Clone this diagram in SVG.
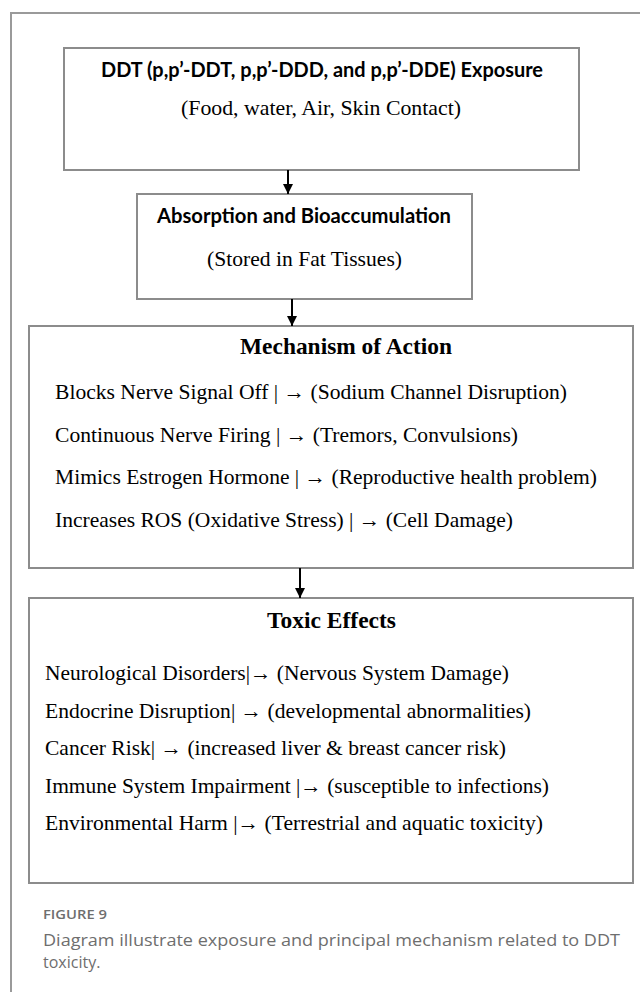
<svg xmlns="http://www.w3.org/2000/svg" width="640" height="992" viewBox="0 0 640 992">
<style>
.box{fill:#fff;stroke:#8c8c8c;stroke-width:2}
.hs{font-family:Lato,"Open Sans","Liberation Sans",sans-serif;font-weight:bold;font-size:20.5px;fill:#000}
.sr{font-family:"Liberation Serif","Times New Roman",serif;font-size:22px;fill:#000}
.sb{font-family:"Liberation Serif","Times New Roman",serif;font-size:23px;font-weight:bold;fill:#000}
.conn{stroke:#000;stroke-width:2;fill:none}
.cap1{font-family:"Open Sans",Lato,sans-serif;font-size:12.5px;font-weight:600;fill:#6e6e6e}
.cap2{font-family:"Open Sans",Lato,sans-serif;font-size:16px;fill:#6e6e6e}
</style>
<defs>
<marker id="ah" markerUnits="userSpaceOnUse" markerWidth="11" markerHeight="12" refX="10" refY="5" orient="auto">
<path d="M0,0 L10,5 L0,10 z" fill="#000"/>
</marker>
</defs>
<rect width="640" height="992" fill="#fff"/>
<path d="M11,992 V13 H640" fill="none" stroke="#9a9a9a" stroke-width="2"/>

<g id="exposure">
<rect class="box" x="64" y="48" width="515" height="122"/>
<text class="hs" x="101" y="77" textLength="442" lengthAdjust="spacingAndGlyphs">DDT (p,p’-DDT, p,p’-DDD, and p,p’-DDE) Exposure</text>
<text class="sr" x="181" y="115" textLength="280" lengthAdjust="spacingAndGlyphs">(Food, water, Air, Skin Contact)</text>
</g>

<g id="absorption">
<rect class="box" x="137" y="194" width="335" height="105"/>
<text class="hs" x="157" y="223" textLength="294" lengthAdjust="spacingAndGlyphs">Absorption and Bioaccumulation</text>
<text class="sr" x="207" y="266" textLength="195" lengthAdjust="spacingAndGlyphs">(Stored in Fat Tissues)</text>
</g>

<g id="mechanism">
<rect class="box" x="29" y="326" width="604" height="242"/>
<text class="sb" x="240" y="354" textLength="212" lengthAdjust="spacingAndGlyphs">Mechanism of Action</text>
<text class="sr" x="55" y="399" textLength="512" lengthAdjust="spacingAndGlyphs">Blocks Nerve Signal Off | → (Sodium Channel Disruption)</text>
<text class="sr" x="55" y="442" textLength="463" lengthAdjust="spacingAndGlyphs">Continuous Nerve Firing | → (Tremors, Convulsions)</text>
<text class="sr" x="55" y="484" textLength="542" lengthAdjust="spacingAndGlyphs">Mimics Estrogen Hormone | → (Reproductive health problem)</text>
<text class="sr" x="55" y="527" textLength="458" lengthAdjust="spacingAndGlyphs">Increases ROS (Oxidative Stress) | → (Cell Damage)</text>
</g>

<g id="toxic">
<rect class="box" x="29" y="598" width="604" height="285"/>
<text class="sb" x="267" y="628" textLength="129" lengthAdjust="spacingAndGlyphs">Toxic Effects</text>
<text class="sr" x="45" y="680" textLength="464" lengthAdjust="spacingAndGlyphs">Neurological Disorders|→ (Nervous System Damage)</text>
<text class="sr" x="45" y="717.5" textLength="486" lengthAdjust="spacingAndGlyphs">Endocrine Disruption| → (developmental abnormalities)</text>
<text class="sr" x="45" y="755" textLength="461" lengthAdjust="spacingAndGlyphs">Cancer Risk| → (increased liver &amp; breast cancer risk)</text>
<text class="sr" x="45" y="792.5" textLength="504" lengthAdjust="spacingAndGlyphs">Immune System Impairment |→ (susceptible to infections)</text>
<text class="sr" x="45" y="830" textLength="498" lengthAdjust="spacingAndGlyphs">Environmental Harm |→ (Terrestrial and aquatic toxicity)</text>
</g>

<g id="connectors">
<line class="conn" x1="288" y1="170" x2="288" y2="194" marker-end="url(#ah)"/>
<line class="conn" x1="292" y1="299" x2="292" y2="326" marker-end="url(#ah)"/>
<line class="conn" x1="300" y1="568" x2="300" y2="598" marker-end="url(#ah)"/>
</g>

<g id="caption">
<text class="cap1" x="43" y="919" textLength="64" lengthAdjust="spacingAndGlyphs">FIGURE 9</text>
<text class="cap2" x="43" y="946" textLength="577" lengthAdjust="spacingAndGlyphs">Diagram illustrate exposure and principal mechanism related to DDT</text>
<text class="cap2" x="43" y="968">toxicity.</text>
</g>
</svg>
